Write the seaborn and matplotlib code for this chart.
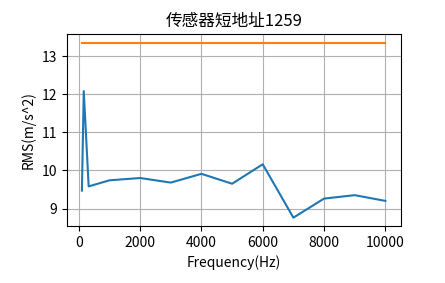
import matplotlib
matplotlib.use("Agg")
import matplotlib.pyplot as plt
import seaborn as sns
import pandas as pd

plt.rcParams['font.family'] = ['Noto Sans CJK SC', 'DejaVu Sans']
plt.rcParams['axes.unicode_minus'] = False

freqs = [100, 160, 320, 1000, 2000, 3000, 4000, 5000, 6000, 7000, 8000, 9000, 10000]
rms = [9.47, 12.08, 9.58, 9.74, 9.80, 9.68, 9.91, 9.65, 10.16, 8.76, 9.26, 9.35, 9.20]
limit = [13.35] * len(freqs)

title = "传感器短地址1259"
xlabel = "Frequency(Hz)"
ylabel = "RMS(m/s^2)"

df = pd.DataFrame({"freq": freqs, "rms": rms, "limit": limit})

fig, ax = plt.subplots(figsize=(4.45, 2.83), dpi=100)
fig.subplots_adjust(left=0.15, right=0.9, top=0.88, bottom=0.2)
sns.lineplot(data=df, x="freq", y="rms", ax=ax, color="#1f77b4")
sns.lineplot(data=df, x="freq", y="limit", ax=ax, color="#ff7f0e")
ax.grid(True, color="#b0b0b0")
ax.set_axisbelow(True)
ax.set_title(title, fontsize=12)
ax.set_xlabel(xlabel)
ax.set_ylabel(ylabel)
ax.set_xticks([0, 2000, 4000, 6000, 8000, 10000])
ax.set_yticks([9, 10, 11, 12, 13])
fig.savefig("out.png", dpi=100)
